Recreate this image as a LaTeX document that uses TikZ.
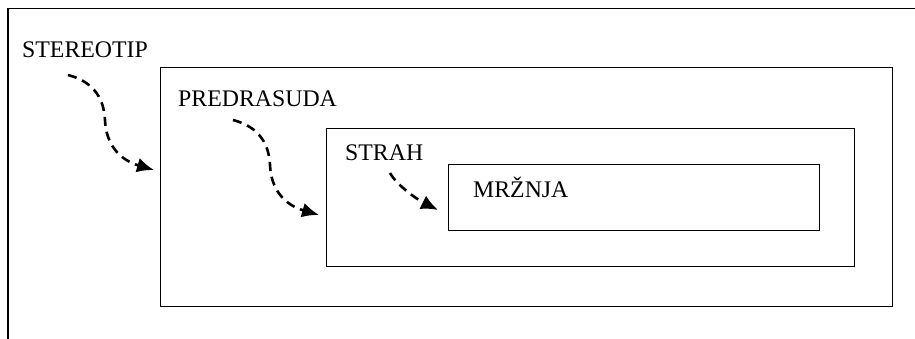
\documentclass[tikz,border=0pt]{standalone}
\usepackage{fontspec}
\setmainfont{Liberation Serif}
\usetikzlibrary{arrows.meta}
\begin{document}
\begin{tikzpicture}[x=1pt,y=-1pt,
  frame/.style={draw, line width=1.3pt, inner sep=0pt, anchor=north west},
  boxtext/.style={anchor=base west, inner sep=0pt, font=\fontsize{23.8}{28}\selectfont},
  flow/.style={line width=2.6pt, dash pattern=on 9pt off 6pt,
    -{Latex[length=17pt,width=15pt]}}]
\useasboundingbox (0,0) rectangle (915,339);

% page frame (top and left edges only)
\draw[line width=1.3pt] (915,8.5) -- (8,8.5) -- (8,339);

% nested boxes
\node[frame, minimum width=732pt, minimum height=239pt] (b1) at (160,67) {};
\node[frame, minimum width=528pt, minimum height=138pt] (b2) at (326,128) {};
\node[frame, minimum width=371pt, minimum height=66pt] (b3) at (448,164) {};

% labels
\node[boxtext] (stereotip) at (22,58) {STEREOTIP};
\node[boxtext] (predrasuda) at (178,107) {PREDRASUDA};
\node[boxtext] (strah) at (345,161) {STRAH};
\node[boxtext] (mrznja) at (473,197) {MRŽNJA};

% arrow end points
\coordinate (s1) at (68,75);
\coordinate (t1) at (154,170);
\coordinate (s2) at (233,120);
\coordinate (t2) at (319,215);
\coordinate (s3) at (390,173);
\coordinate (t3) at (438,210);

% dashed arrows leading into each inner box
\draw[flow] (s1) .. controls +(27,7) and +(-1,-20) .. ++(37,45)
  .. controls +(1,25) and +(-34,-10) .. (t1);
\draw[flow] (s2) .. controls +(27,7) and +(-1,-20) .. ++(37,45)
  .. controls +(1,25) and +(-34,-10) .. (t2);
\draw[flow] (s3) .. controls +(8,14) and +(-18,-9) .. (t3);
\end{tikzpicture}
\end{document}
